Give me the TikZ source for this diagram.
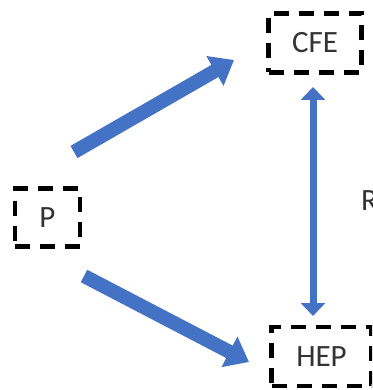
\documentclass[tikz,border=0pt]{standalone}
\usepackage{fontspec}
\setmainfont{Carlito}
\usetikzlibrary{arrows.meta}
\definecolor{arrowblue}{HTML}{4472C4}
\tikzset{
  dbox/.style={draw=black, line width=4.5pt, dash pattern=on 15pt off 10pt, dash phase=0pt, rectangle, inner sep=0pt, font=\fontsize{31}{34}\selectfont, text=black!80},
  bigarrow/.style={draw=arrowblue, line width=14pt, -{Triangle[width=33pt,length=22pt]}},
  duoarrow/.style={draw=arrowblue, line width=7pt, {Triangle[width=24pt,length=13pt]}-{Triangle[width=24pt,length=13pt]}},
  lbl/.style={font=\fontsize{31}{34}\selectfont, text=black!80, inner sep=0pt}
}
\begin{document}
\begin{tikzpicture}[x=1pt,y=-1pt]
\useasboundingbox (0,0) rectangle (372,390);
\clip (0,0) rectangle (372,390);
\node[dbox, minimum width=93pt, minimum height=59pt] (CFE) at (315,43) {CFE};
\node[dbox, minimum width=65pt, minimum height=58pt] (P) at (47.5,217.5) {P};
\node[dbox, minimum width=100pt, minimum height=59pt] (HEP) at (321.5,356.5) {HEP};
\node[lbl, anchor=west] (R) at (361,201) {R};
\coordinate (a1s) at (74,152);
\coordinate (a1e) at (234,60);
\coordinate (a2s) at (84,276);
\coordinate (a2e) at (249,362);
\coordinate (a3s) at (313,87);
\coordinate (a3e) at (313,316);
\draw[bigarrow] (a1s) -- (a1e);
\draw[bigarrow] (a2s) -- (a2e);
\draw[duoarrow] (a3s) -- (a3e);
\end{tikzpicture}
\end{document}
